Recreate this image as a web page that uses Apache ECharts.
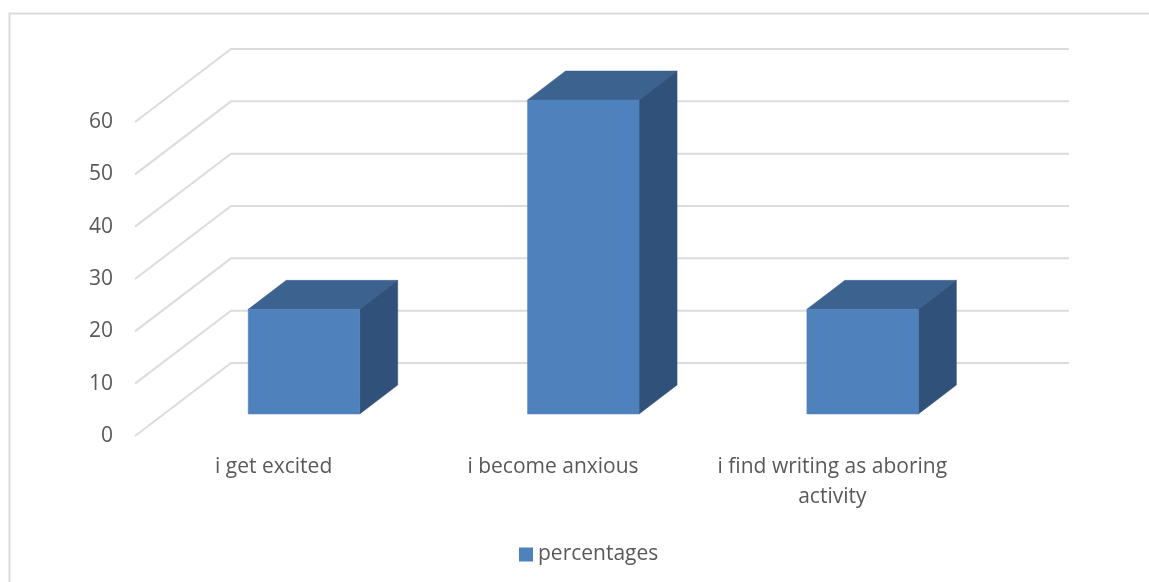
<!DOCTYPE html>
<html>
<head>
<meta charset="utf-8">
<style>html,body{margin:0;padding:0;background:#fff}#chart{width:1149px;height:582px}</style>
<script src="https://cdn.jsdelivr.net/npm/echarts@6/dist/echarts.min.js"></script>
</head>
<body>
<div id="chart"></div>
<script>
const categories = ['i get excited', 'i become anxious', 'i find writing as aboring\nactivity'];
const percentages = [20, 60, 20];
const yTicks = [0, 10, 20, 30, 40, 50, 60];
const seriesName = 'percentages';

// Oblique projection of the chart's depth, in pixels.
const WALL_DX = 96, WALL_DY = -73;
const BAR_DX = 38, BAR_DY = -29;
const BAR_WIDTH = 111.5;
const BAR_SHIFT_X = 30.3, BAR_SHIFT_Y = -22;
const FLOOR_START = 1;

const colors = { front: '#4f81bd', top: '#3c628f', side: '#305179', grid: '#dcdcdc', text: '#595959' };
const fontFamily = '"Open Sans", "Noto Sans", sans-serif';
const fontSize = 21;

// L-shaped grid lines: a diagonal along the side wall, then across the back wall.
function renderWallLine(params, api) {
  const y = api.coord([0, api.value(1)])[1];
  const x0 = params.coordSys.x + FLOOR_START;
  const x1 = x0 + WALL_DX;
  const x2 = x1 + params.coordSys.width;
  return {
    type: 'polyline',
    shape: { points: [[x0, y], [x1, y + WALL_DY], [x2, y + WALL_DY]] },
    style: { stroke: colors.grid, lineWidth: 2, fill: null },
    silent: true
  };
}

// Box with a front face, a top face and a right-hand side face.
function renderBar(params, api) {
  const top = api.coord([api.value(0), api.value(1)]);
  const base = api.coord([api.value(0), 0]);
  const l = top[0] + BAR_SHIFT_X - BAR_WIDTH / 2;
  const r = l + BAR_WIDTH;
  const t = top[1] + BAR_SHIFT_Y;
  const b = base[1] + BAR_SHIFT_Y;
  const face = (points, fill) => ({
    type: 'polygon',
    shape: { points },
    style: { fill, stroke: fill, lineWidth: 0.5 }
  });
  return {
    type: 'group',
    children: [
      face([[l, t], [r, t], [r + BAR_DX, t + BAR_DY], [l + BAR_DX, t + BAR_DY]], colors.top),
      face([[r, t], [r + BAR_DX, t + BAR_DY], [r + BAR_DX, b + BAR_DY], [r, b]], colors.side),
      face([[l, t], [r, t], [r, b], [l, b]], colors.front)
    ]
  };
}

const chart = echarts.init(document.getElementById('chart'), null, { renderer: 'canvas' });
chart.setOption({
  animation: false,
  backgroundColor: '#ffffff',
  textStyle: { fontFamily },
  color: [colors.front],
  grid: { left: 134, top: 122, width: 838, height: 314, containLabel: false },
  xAxis: {
    type: 'category',
    data: categories,
    axisLine: { show: false },
    axisTick: { show: false },
    splitLine: { show: false },
    axisLabel: { color: colors.text, fontSize, fontFamily, lineHeight: 30, margin: 16, interval: 0 }
  },
  yAxis: {
    type: 'value',
    min: 0,
    max: 60,
    interval: 10,
    axisLine: { show: false },
    axisTick: { show: false },
    splitLine: { show: false },
    axisLabel: { color: colors.text, fontSize, fontFamily, margin: 21 }
  },
  legend: {
    data: [{ name: seriesName, icon: 'rect' }],
    left: 514,
    top: 539,
    itemWidth: 14,
    itemHeight: 14,
    itemGap: 5,
    textStyle: { color: colors.text, fontSize, fontFamily }
  },
  graphic: [{
    type: 'polyline',
    silent: true,
    shape: { points: [[9.5, 582], [9.5, 13.5], [1149, 13.5]] },
    style: { stroke: colors.grid, lineWidth: 2, fill: null }
  }],
  series: [
    {
      name: 'wall',
      type: 'custom',
      z: 1,
      silent: true,
      renderItem: renderWallLine,
      data: yTicks.map(v => [0, v]),
      encode: { x: 0, y: 1 }
    },
    {
      name: seriesName,
      type: 'custom',
      z: 2,
      renderItem: renderBar,
      itemStyle: { color: colors.front },
      data: percentages.map((v, i) => [i, v]),
      encode: { x: 0, y: 1 }
    }
  ]
});
</script>
</body>
</html>
